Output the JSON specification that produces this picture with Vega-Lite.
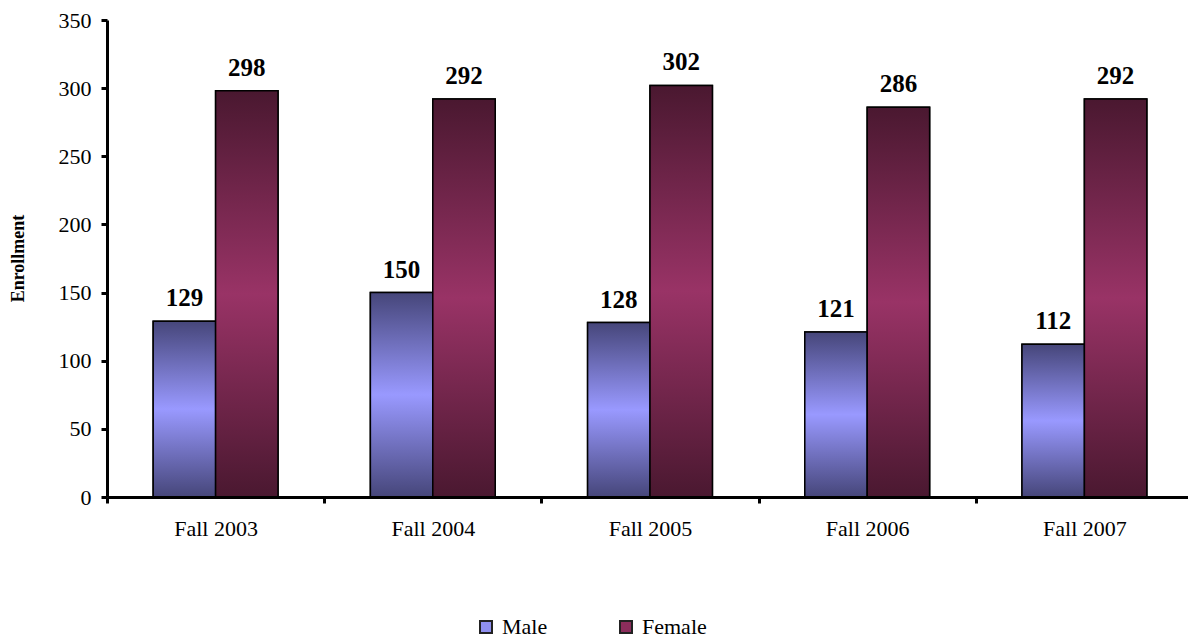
{
  "$schema": "https://vega.github.io/schema/vega-lite/v6.json",
  "width": 1081,
  "height": 477,
  "autosize": "none",
  "padding": {"left": 107, "top": 20, "right": 0, "bottom": 144},
  "background": "white",
  "config": {"font": "Liberation Serif", "view": {"stroke": null}},
  "data": {
    "values": [
      {"term": "Fall 2003", "sex": "Male", "value": 129},
      {"term": "Fall 2003", "sex": "Female", "value": 298},
      {"term": "Fall 2004", "sex": "Male", "value": 150},
      {"term": "Fall 2004", "sex": "Female", "value": 292},
      {"term": "Fall 2005", "sex": "Male", "value": 128},
      {"term": "Fall 2005", "sex": "Female", "value": 302},
      {"term": "Fall 2006", "sex": "Male", "value": 121},
      {"term": "Fall 2006", "sex": "Female", "value": 286},
      {"term": "Fall 2007", "sex": "Male", "value": 112},
      {"term": "Fall 2007", "sex": "Female", "value": 292}
    ]
  },
  "encoding": {
    "x": {
      "field": "term", "type": "nominal", "sort": null,
      "scale": {"paddingInner": 0, "paddingOuter": 0, "range": [0, 1086]},
      "axis": {
        "title": null, "labelAngle": 0, "labelFontSize": 22, "labelColor": "black",
        "labelFont": "Liberation Serif", "labelPadding": 15,
        "domainColor": "black", "domainWidth": 3, "tickColor": "black", "tickWidth": 3,
        "tickSize": 6, "tickBand": "extent", "zindex": 1
      }
    },
    "xOffset": {
      "field": "sex", "type": "nominal", "sort": ["Male", "Female"],
      "scale": {"domain": ["Male", "Female"], "paddingOuter": 0.74, "paddingInner": 0}
    },
    "y": {
      "field": "value", "type": "quantitative",
      "scale": {"domain": [0, 350], "nice": false},
      "axis": {
        "values": [0, 50, 100, 150, 200, 250, 300, 350], "grid": false,
        "labelFontSize": 22, "labelColor": "black", "labelFont": "Liberation Serif", "labelPadding": 10,
        "domainColor": "black", "domainWidth": 3, "tickColor": "black", "tickWidth": 3, "tickSize": 6,
        "title": "Enrollment", "titleFont": "Liberation Serif", "titleFontSize": 18, "titleFontWeight": "bold",
        "titleColor": "black", "titleX": -89, "titleY": 238, "titleAngle": 270, "titleAlign": "center",
        "titleBaseline": "middle", "zindex": 1
      }
    }
  },
  "layer": [
    {
      "mark": {"type": "bar", "stroke": "black", "strokeWidth": 1.5},
      "encoding": {
        "color": {
          "field": "sex", "type": "nominal",
          "scale": {"domain": ["Male", "Female"], "range": ["#8f8fef", "#8b2d5c"]},
          "legend": {
            "title": null, "orient": "none", "legendX": 368, "legendY": 596, "direction": "horizontal",
            "symbolType": "square", "symbolSize": 144, "symbolStrokeColor": "#222222", "symbolStrokeWidth": 2,
            "labelFontSize": 22, "labelFont": "Liberation Serif", "labelColor": "black",
            "columnPadding": 67, "labelOffset": 5
          }
        }
      }
    },
    {
      "transform": [{"filter": "datum.sex === 'Male'"}],
      "mark": {
        "type": "bar", "stroke": "black", "strokeWidth": 1.5,
        "fill": {
          "gradient": "linear", "x1": 0, "y1": 0, "x2": 0, "y2": 1,
          "stops": [
            {"offset": 0, "color": "#46467a"},
            {"offset": 0.5, "color": "#9999ff"},
            {"offset": 1, "color": "#46467a"}
          ]
        }
      }
    },
    {
      "transform": [{"filter": "datum.sex === 'Female'"}],
      "mark": {
        "type": "bar", "stroke": "black", "strokeWidth": 1.5,
        "fill": {
          "gradient": "linear", "x1": 0, "y1": 0, "x2": 0, "y2": 1,
          "stops": [
            {"offset": 0, "color": "#4a1830"},
            {"offset": 0.5, "color": "#993366"},
            {"offset": 1, "color": "#4a1830"}
          ]
        }
      }
    },
    {
      "mark": {
        "type": "text", "font": "Liberation Serif", "fontSize": 25, "fontWeight": "bold",
        "color": "black", "dy": -15, "baseline": "alphabetic"
      },
      "encoding": {"text": {"field": "value", "type": "quantitative"}}
    }
  ]
}
